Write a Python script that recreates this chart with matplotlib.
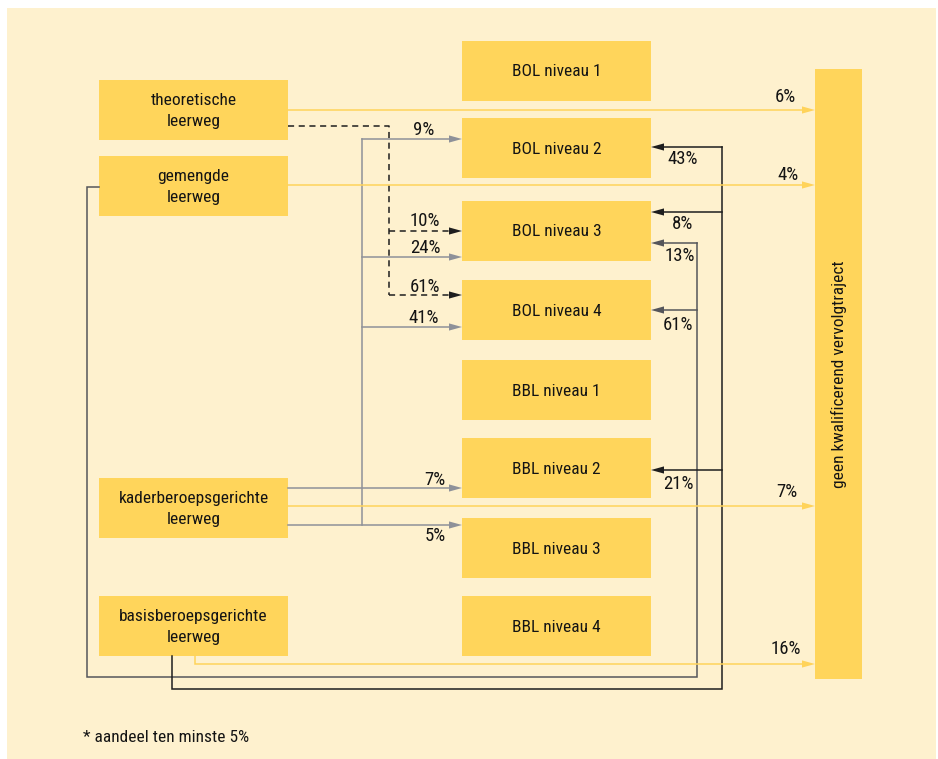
import matplotlib
matplotlib.use("Agg")
import matplotlib.pyplot as plt
from matplotlib.patches import Rectangle, Polygon
from matplotlib import font_manager

# ---------------- data ----------------
origins = ["theoretische\nleerweg", "gemengde\nleerweg",
           "kaderberoepsgerichte\nleerweg", "basisberoepsgerichte\nleerweg"]
destinations = ["BOL niveau 1", "BOL niveau 2", "BOL niveau 3", "BOL niveau 4",
                "BBL niveau 1", "BBL niveau 2", "BBL niveau 3", "BBL niveau 4"]
sink = "geen kwalificerend vervolgtraject"
footnote = "* aandeel ten minste 5%"

# flows: origin index -> destination (index into destinations, or 'sink') with share (%)
flow_origin = [0, 0, 0, 1, 1, 1, 2, 2, 2, 2, 2, 2, 3, 3, 3, 3]
flow_dest   = ["sink", 2, 3, "sink", 2, 3, 1, 2, 3, 5, 6, "sink", 1, 2, 5, "sink"]
flow_pct    = [6, 10, 61, 4, 13, 61, 9, 24, 41, 7, 5, 7, 43, 8, 21, 16]

# ---------------- style ----------------
avail = {f.name for f in font_manager.fontManager.ttflist}
fam = [f for f in ["Liberation Sans Narrow", "Roboto Condensed", "Open Sans Condensed",
                   "Liberation Sans", "DejaVu Sans"] if f in avail]
plt.rcParams["font.family"] = fam

PANEL = "#FEF1CE"
BOX = "#FFD55B"
YEL = "#FFD35A"
GRAY = "#8E9199"
DGRAY = "#55565B"
BLACK = "#1E1E1E"
TXT = "#141414"

fig = plt.figure(figsize=(9.38, 7.59), dpi=100)
ax = fig.add_axes([0, 0, 1, 1])
ax.set_xlim(0, 938)
ax.set_ylim(759, 0)
ax.axis("off")

ax.add_patch(Rectangle((7, 8), 929, 751, facecolor=PANEL, edgecolor="none", zorder=0))

# ---------------- layout ----------------
LX0, LX1 = 99, 288
left_y = [(80, 140), (156, 216), (478, 538), (596, 656)]
MX0, MX1 = 462, 651
mid_y = [(41, 101), (118, 178), (201, 261), (280, 340),
         (360, 420), (438, 498), (518, 578), (596, 656)]
SX0, SX1, SY0, SY1 = 815, 862, 69, 679

FS = 12.5
for lab, (y0, y1) in zip(origins, left_y):
    ax.add_patch(Rectangle((LX0, y0), LX1 - LX0, y1 - y0, facecolor=BOX, edgecolor="none", zorder=2))
    ax.text((LX0 + LX1) / 2, (y0 + y1) / 2 + 1, lab, ha="center", va="center",
            fontsize=FS, color=TXT, linespacing=1.55, zorder=5)
for lab, (y0, y1) in zip(destinations, mid_y):
    ax.add_patch(Rectangle((MX0, y0), MX1 - MX0, y1 - y0, facecolor=BOX, edgecolor="none", zorder=2))
    ax.text((MX0 + MX1) / 2, (y0 + y1) / 2 + 1, lab, ha="center", va="center",
            fontsize=FS, color=TXT, zorder=5)
ax.add_patch(Rectangle((SX0, SY0), SX1 - SX0, SY1 - SY0, facecolor=BOX, edgecolor="none", zorder=2))
ax.text((SX0 + SX1) / 2, (SY0 + SY1) / 2, sink, ha="center", va="center",
        rotation=90, fontsize=FS, color=TXT, zorder=5)

ax.text(83, 738, footnote, ha="left", va="center", fontsize=FS, color=TXT)


def head(x, y, direction, color, L=13, W=3.6):
    # direction +1: pointing right, -1: pointing left
    pts = [(x, y), (x - direction * L, y - W), (x - direction * L, y + W)]
    ax.add_patch(Polygon(pts, closed=True, facecolor=color, edgecolor="none", zorder=4))


def line(xs, ys, color, ls="-", lw=1.1):
    ax.plot(xs, ys, color=color, lw=lw, ls=ls, zorder=3, solid_joinstyle="miter",
            dashes=(4, 3) if ls == "--" else (None, None))


def label(x, y, v):
    ax.text(x, y, f"{v}%", ha="center", va="center", fontsize=13.5, color=TXT, zorder=5)


# routing geometry per flow (layout only)
sink_y = {0: 110, 1: 185, 2: 506, 3: 664}
sink_lab = {0: (785, 97), 1: (788, 175), 2: (787, 492), 3: (786, 649)}

# theoretische: dashed black trunk
th_trunk_x, th_y0 = 389, 126
th_branch_y = {2: 231, 3: 295}
th_lab = {2: (425, 221), 3: (425, 287)}
# kader: gray trunk
ka_trunk_x = 362
ka_branch_y = {1: 139, 2: 257, 3: 327, 5: 488, 6: 525}
ka_lab = {1: (424, 130), 2: (425, 248), 3: (424, 318), 5: (435, 480), 6: (435, 536)}
# gemengde: dark gray loop
ge_left_x, ge_start_y, ge_bottom_y, ge_trunk_x = 87, 187, 677, 697
ge_branch_y = {2: 243, 3: 310}
ge_lab = {2: (680, 256), 3: (678, 325)}
# basis: black loop
ba_start_x, ba_bottom_y, ba_trunk_x = 172, 689, 722
ba_branch_y = {1: 147, 2: 212, 5: 470}
ba_lab = {1: (683, 159), 2: (683, 224), 5: (678, 484)}

# trunks
th_ys = [th_branch_y[d] for o, d in zip(flow_origin, flow_dest) if o == 0 and d != "sink"]
line([LX1, th_trunk_x, th_trunk_x], [th_y0, th_y0, max(th_ys)], BLACK, ls="--")
ka_ys = [ka_branch_y[d] for o, d in zip(flow_origin, flow_dest) if o == 2 and d != "sink"]
line([ka_trunk_x, ka_trunk_x], [min(ka_ys), max(ka_ys)], GRAY)
ge_ys = [ge_branch_y[d] for o, d in zip(flow_origin, flow_dest) if o == 1 and d != "sink"]
line([LX0, ge_left_x, ge_left_x, ge_trunk_x, ge_trunk_x],
     [ge_start_y, ge_start_y, ge_bottom_y, ge_bottom_y, min(ge_ys)], DGRAY)
ba_ys = [ba_branch_y[d] for o, d in zip(flow_origin, flow_dest) if o == 3 and d != "sink"]
line([ba_start_x, ba_start_x, ba_trunk_x, ba_trunk_x],
     [left_y[3][1], ba_bottom_y, ba_bottom_y, min(ba_ys)], BLACK)

for o, d, v in zip(flow_origin, flow_dest, flow_pct):
    if d == "sink":
        y = sink_y[o]
        if o == 3:
            line([195, 195, SX0 - 12], [left_y[3][1], y, y], YEL)
        else:
            line([LX1, SX0 - 12], [y, y], YEL)
        head(SX0, y, +1, YEL)
        label(*sink_lab[o], v)
    elif o == 0:
        y = th_branch_y[d]
        line([th_trunk_x, MX0 - 12], [y, y], BLACK, ls="--")
        head(MX0, y, +1, BLACK)
        label(*th_lab[d], v)
    elif o == 2:
        y = ka_branch_y[d]
        x_start = LX1 if d in (5, 6) else ka_trunk_x
        line([x_start, MX0 - 12], [y, y], GRAY)
        head(MX0, y, +1, GRAY)
        label(*ka_lab[d], v)
    elif o == 1:
        y = ge_branch_y[d]
        line([ge_trunk_x, MX1 + 12], [y, y], DGRAY)
        head(MX1, y, -1, DGRAY)
        label(*ge_lab[d], v)
    elif o == 3:
        y = ba_branch_y[d]
        line([ba_trunk_x, MX1 + 12], [y, y], BLACK)
        head(MX1, y, -1, BLACK)
        label(*ba_lab[d], v)

fig.savefig("out.png", dpi=100, facecolor="white")
